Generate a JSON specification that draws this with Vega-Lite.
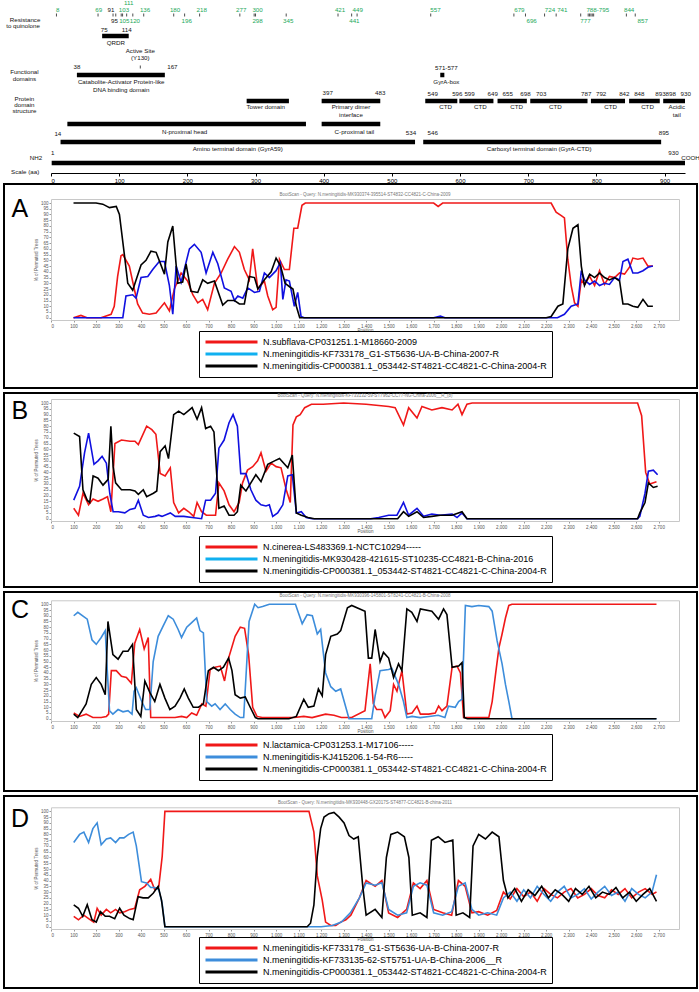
{
"$schema": "https://vega.github.io/schema/vega-lite/v6.json",
"padding": {"left": 3, "top": 0, "right": 3, "bottom": 0},
"background": "white",
"spacing": 5,
"bounds": "flush",
"resolve": {"scale": {"color": "independent", "stroke": "independent"}, "legend": {"color": "independent", "stroke": "independent"}},
"config": {"font": "Liberation Sans", "view": {"stroke": null}},
"datasets": {
"bars": [
{"name":"QRDR","start":75,"end":114,"lane":35},
{"name":"CAP-like","start":38,"end":167,"lane":74},
{"name":"GyrA-box","start":571,"end":577,"lane":74},
{"name":"Tower","start":287,"end":349,"lane":100},
{"name":"Primary dimer","start":397,"end":483,"lane":100},
{"name":"CTD1","start":549,"end":596,"lane":100},
{"name":"CTD2","start":599,"end":649,"lane":100},
{"name":"CTD3","start":655,"end":698,"lane":100},
{"name":"CTD4","start":703,"end":787,"lane":100},
{"name":"CTD5","start":792,"end":842,"lane":100},
{"name":"CTD6","start":848,"end":893,"lane":100},
{"name":"Acidic","start":898,"end":930,"lane":100},
{"name":"N-proximal","start":24,"end":374,"lane":123},
{"name":"C-proximal","start":397,"end":483,"lane":123},
{"name":"Amino","start":14,"end":534,"lane":141},
{"name":"Carboxyl","start":546,"end":895,"lane":141},
{"name":"Full","start":1,"end":930,"lane":162}
],
"ticks": [
{"aa":8,"lane":14},{"aa":69,"lane":14},{"aa":91,"lane":14},{"aa":95,"lane":14},{"aa":103,"lane":14},{"aa":105,"lane":14},{"aa":111,"lane":14},{"aa":120,"lane":14},{"aa":136,"lane":14},{"aa":180,"lane":14},{"aa":196,"lane":14},{"aa":218,"lane":14},{"aa":277,"lane":14},{"aa":298,"lane":14},{"aa":300,"lane":14},{"aa":345,"lane":14},{"aa":421,"lane":14},{"aa":441,"lane":14},{"aa":449,"lane":14},{"aa":557,"lane":14},{"aa":679,"lane":14},{"aa":696,"lane":14},{"aa":724,"lane":14},{"aa":741,"lane":14},{"aa":777,"lane":14},{"aa":788,"lane":14},{"aa":790,"lane":14},{"aa":792,"lane":14},{"aa":794,"lane":14},{"aa":796,"lane":14},{"aa":844,"lane":14},{"aa":857,"lane":14},{"aa":131,"lane":66}
],
"labels": [
{"t":"111","x":114,"lane":2,"kind":"res"},
{"t":"8","x":10,"lane":8.5,"kind":"res"},
{"t":"69","x":70,"lane":8.5,"kind":"res"},
{"t":"91","x":88,"lane":8.5,"kind":"std"},
{"t":"103","x":107,"lane":8.5,"kind":"res"},
{"t":"136","x":138,"lane":8.5,"kind":"res"},
{"t":"180","x":182,"lane":8.5,"kind":"res"},
{"t":"218","x":221,"lane":8.5,"kind":"res"},
{"t":"277","x":279,"lane":8.5,"kind":"res"},
{"t":"300","x":303,"lane":8.5,"kind":"res"},
{"t":"421","x":424,"lane":8.5,"kind":"res"},
{"t":"449","x":450,"lane":8.5,"kind":"res"},
{"t":"557","x":564,"lane":8.5,"kind":"res"},
{"t":"679","x":687,"lane":8.5,"kind":"res"},
{"t":"724","x":732,"lane":8.5,"kind":"res"},
{"t":"741","x":750,"lane":8.5,"kind":"res"},
{"t":"788-795","x":802,"lane":8.5,"kind":"res"},
{"t":"844","x":848,"lane":8.5,"kind":"res"},
{"t":"95","x":93,"lane":20,"kind":"std"},
{"t":"105","x":107.5,"lane":20,"kind":"res"},
{"t":"120","x":123,"lane":20,"kind":"res"},
{"t":"196","x":199,"lane":20,"kind":"res"},
{"t":"298","x":303,"lane":20,"kind":"res"},
{"t":"345","x":348,"lane":20,"kind":"res"},
{"t":"441","x":445,"lane":20,"kind":"res"},
{"t":"696","x":705,"lane":20,"kind":"res"},
{"t":"777","x":784,"lane":20,"kind":"res"},
{"t":"857","x":868,"lane":20,"kind":"res"},
{"t":"Resistance","x":-38,"lane":19,"kind":"std"},
{"t":"to quinolone","x":-41,"lane":25,"kind":"std"},
{"t":"75","x":78,"lane":29,"kind":"std"},
{"t":"114","x":111,"lane":29,"kind":"std"},
{"t":"QRDR","x":95,"lane":42,"kind":"std"},
{"t":"Active Site","x":131,"lane":50,"kind":"std"},
{"t":"(Y130)","x":131,"lane":57,"kind":"std"},
{"t":"38","x":38,"lane":66,"kind":"std"},
{"t":"167","x":178,"lane":66,"kind":"std"},
{"t":"Functional","x":-39,"lane":71,"kind":"std"},
{"t":"domains","x":-39,"lane":78,"kind":"std"},
{"t":"Catabolite-Activator Protein-like","x":103,"lane":81,"kind":"std"},
{"t":"DNA binding domain","x":103,"lane":89,"kind":"std"},
{"t":"571-577","x":580,"lane":67,"kind":"std"},
{"t":"GyrA-box","x":580,"lane":81,"kind":"std"},
{"t":"397","x":406,"lane":92,"kind":"std"},
{"t":"483","x":483,"lane":92,"kind":"std"},
{"t":"549","x":560,"lane":93,"kind":"std"},
{"t":"596","x":596,"lane":93,"kind":"std"},
{"t":"599","x":614,"lane":93,"kind":"std"},
{"t":"649","x":648,"lane":93,"kind":"std"},
{"t":"655","x":670,"lane":93,"kind":"std"},
{"t":"698","x":696,"lane":93,"kind":"std"},
{"t":"703","x":719,"lane":93,"kind":"std"},
{"t":"787","x":785,"lane":93,"kind":"std"},
{"t":"792","x":807,"lane":93,"kind":"std"},
{"t":"842","x":841,"lane":93,"kind":"std"},
{"t":"848","x":863,"lane":93,"kind":"std"},
{"t":"893","x":894,"lane":93,"kind":"std"},
{"t":"898","x":909,"lane":93,"kind":"std"},
{"t":"930","x":931,"lane":93,"kind":"std"},
{"t":"Protein","x":-39,"lane":98,"kind":"std"},
{"t":"domain","x":-39,"lane":104,"kind":"std"},
{"t":"structure","x":-39,"lane":110,"kind":"std"},
{"t":"Tower domain","x":315,"lane":106,"kind":"std"},
{"t":"Primary dimer","x":440,"lane":106,"kind":"std"},
{"t":"interface","x":440,"lane":114,"kind":"std"},
{"t":"CTD","x":579,"lane":106,"kind":"std"},
{"t":"CTD","x":630,"lane":106,"kind":"std"},
{"t":"CTD","x":683,"lane":106,"kind":"std"},
{"t":"CTD","x":740,"lane":106,"kind":"std"},
{"t":"CTD","x":821,"lane":106,"kind":"std"},
{"t":"CTD","x":875,"lane":106,"kind":"std"},
{"t":"Acidic","x":918,"lane":106,"kind":"std"},
{"t":"tail","x":918,"lane":114,"kind":"std"},
{"t":"N-proximal head","x":196,"lane":131,"kind":"std"},
{"t":"C-proximal tail","x":445,"lane":131,"kind":"std"},
{"t":"14","x":10,"lane":133,"kind":"std"},
{"t":"534","x":528,"lane":132,"kind":"std"},
{"t":"546","x":560,"lane":132,"kind":"std"},
{"t":"895","x":899,"lane":132,"kind":"std"},
{"t":"Amino terminal domain (GyrA59)","x":274,"lane":148,"kind":"std"},
{"t":"Carboxyl terminal domain (GyrA-CTD)","x":716,"lane":148,"kind":"std"},
{"t":"1","x":2.5,"lane":152,"kind":"std"},
{"t":"930","x":913,"lane":152,"kind":"std"},
{"t":"NH2","x":-22,"lane":157,"kind":"std"},
{"t":"COOH","x":938,"lane":157,"kind":"std"},
{"t":"Scale (aa)","x":-38,"lane":171,"kind":"std"}
],
"A": [
{"s":"ar","p":100,"v":0},{"s":"ar","p":133,"v":2},{"s":"ar","p":160,"v":0},{"s":"ar","p":222,"v":0},{"s":"ar","p":267,"v":3},{"s":"ar","p":281,"v":10},{"s":"ar","p":296,"v":36},{"s":"ar","p":311,"v":54},{"s":"ar","p":319,"v":55},{"s":"ar","p":348,"v":45},{"s":"ar","p":370,"v":25},{"s":"ar","p":385,"v":12},{"s":"ar","p":407,"v":4},{"s":"ar","p":437,"v":3},{"s":"ar","p":467,"v":4},{"s":"ar","p":504,"v":13},{"s":"ar","p":526,"v":6},{"s":"ar","p":548,"v":25},{"s":"ar","p":578,"v":39},{"s":"ar","p":607,"v":32},{"s":"ar","p":630,"v":20},{"s":"ar","p":652,"v":13},{"s":"ar","p":674,"v":16},{"s":"ar","p":696,"v":7},{"s":"ar","p":726,"v":30},{"s":"ar","p":756,"v":39},{"s":"ar","p":785,"v":51},{"s":"ar","p":815,"v":62},{"s":"ar","p":837,"v":57},{"s":"ar","p":859,"v":42},{"s":"ar","p":881,"v":33},{"s":"ar","p":896,"v":60},{"s":"ar","p":919,"v":25},{"s":"ar","p":948,"v":32},{"s":"ar","p":963,"v":19},{"s":"ar","p":985,"v":7},{"s":"ar","p":1000,"v":9},{"s":"ar","p":1015,"v":51},{"s":"ar","p":1037,"v":42},{"s":"ar","p":1059,"v":42},{"s":"ar","p":1079,"v":78},{"s":"ar","p":1096,"v":78},{"s":"ar","p":1115,"v":98},{"s":"ar","p":1130,"v":100},{"s":"ar","p":1400,"v":100},{"s":"ar","p":1700,"v":100},{"s":"ar","p":1720,"v":97},{"s":"ar","p":1740,"v":100},{"s":"ar","p":2222,"v":100},{"s":"ar","p":2244,"v":92},{"s":"ar","p":2267,"v":89},{"s":"ar","p":2281,"v":87},{"s":"ar","p":2296,"v":51},{"s":"ar","p":2311,"v":28},{"s":"ar","p":2326,"v":13},{"s":"ar","p":2341,"v":10},{"s":"ar","p":2356,"v":33},{"s":"ar","p":2370,"v":29},{"s":"ar","p":2393,"v":36},{"s":"ar","p":2415,"v":28},{"s":"ar","p":2437,"v":41},{"s":"ar","p":2459,"v":29},{"s":"ar","p":2481,"v":36},{"s":"ar","p":2504,"v":35},{"s":"ar","p":2526,"v":39},{"s":"ar","p":2548,"v":38},{"s":"ar","p":2570,"v":44},{"s":"ar","p":2585,"v":52},{"s":"ar","p":2607,"v":51},{"s":"ar","p":2630,"v":52},{"s":"ar","p":2652,"v":45},{"s":"ar","p":2674,"v":45},
{"s":"ab","p":100,"v":0},{"s":"ab","p":319,"v":0},{"s":"ab","p":333,"v":19},{"s":"ab","p":363,"v":20},{"s":"ab","p":378,"v":17},{"s":"ab","p":400,"v":35},{"s":"ab","p":430,"v":36},{"s":"ab","p":452,"v":42},{"s":"ab","p":481,"v":49},{"s":"ab","p":504,"v":49},{"s":"ab","p":526,"v":28},{"s":"ab","p":541,"v":3},{"s":"ab","p":556,"v":45},{"s":"ab","p":578,"v":31},{"s":"ab","p":615,"v":60},{"s":"ab","p":637,"v":64},{"s":"ab","p":667,"v":57},{"s":"ab","p":689,"v":39},{"s":"ab","p":719,"v":57},{"s":"ab","p":741,"v":47},{"s":"ab","p":770,"v":26},{"s":"ab","p":800,"v":23},{"s":"ab","p":815,"v":15},{"s":"ab","p":830,"v":19},{"s":"ab","p":852,"v":17},{"s":"ab","p":874,"v":26},{"s":"ab","p":904,"v":22},{"s":"ab","p":926,"v":23},{"s":"ab","p":948,"v":39},{"s":"ab","p":970,"v":35},{"s":"ab","p":1000,"v":41},{"s":"ab","p":1019,"v":48},{"s":"ab","p":1030,"v":16},{"s":"ab","p":1044,"v":33},{"s":"ab","p":1059,"v":32},{"s":"ab","p":1081,"v":10},{"s":"ab","p":1096,"v":22},{"s":"ab","p":1111,"v":1},{"s":"ab","p":1125,"v":0},{"s":"ab","p":1700,"v":0},{"s":"ab","p":1730,"v":1.5},{"s":"ab","p":1750,"v":0},{"s":"ab","p":2250,"v":0},{"s":"ab","p":2281,"v":3},{"s":"ab","p":2311,"v":10},{"s":"ab","p":2341,"v":12},{"s":"ab","p":2356,"v":41},{"s":"ab","p":2370,"v":33},{"s":"ab","p":2393,"v":29},{"s":"ab","p":2415,"v":32},{"s":"ab","p":2437,"v":28},{"s":"ab","p":2459,"v":30},{"s":"ab","p":2481,"v":29},{"s":"ab","p":2504,"v":35},{"s":"ab","p":2526,"v":33},{"s":"ab","p":2541,"v":49},{"s":"ab","p":2563,"v":51},{"s":"ab","p":2585,"v":39},{"s":"ab","p":2607,"v":39},{"s":"ab","p":2630,"v":41},{"s":"ab","p":2652,"v":44},{"s":"ab","p":2674,"v":45},
{"s":"ak","p":100,"v":100},{"s":"ak","p":200,"v":100},{"s":"ak","p":230,"v":99},{"s":"ak","p":260,"v":96},{"s":"ak","p":290,"v":97},{"s":"ak","p":304,"v":90},{"s":"ak","p":326,"v":55},{"s":"ak","p":341,"v":30},{"s":"ak","p":363,"v":24},{"s":"ak","p":400,"v":46},{"s":"ak","p":422,"v":50},{"s":"ak","p":444,"v":58},{"s":"ak","p":467,"v":57},{"s":"ak","p":504,"v":38},{"s":"ak","p":519,"v":66},{"s":"ak","p":541,"v":80},{"s":"ak","p":563,"v":30},{"s":"ak","p":585,"v":31},{"s":"ak","p":600,"v":47},{"s":"ak","p":622,"v":23},{"s":"ak","p":652,"v":22},{"s":"ak","p":674,"v":33},{"s":"ak","p":696,"v":30},{"s":"ak","p":726,"v":32},{"s":"ak","p":763,"v":11},{"s":"ak","p":785,"v":15},{"s":"ak","p":815,"v":15},{"s":"ak","p":837,"v":12},{"s":"ak","p":859,"v":12},{"s":"ak","p":881,"v":36},{"s":"ak","p":904,"v":35},{"s":"ak","p":919,"v":25},{"s":"ak","p":948,"v":33},{"s":"ak","p":978,"v":40},{"s":"ak","p":1000,"v":52},{"s":"ak","p":1020,"v":45},{"s":"ak","p":1040,"v":30},{"s":"ak","p":1060,"v":27},{"s":"ak","p":1075,"v":25},{"s":"ak","p":1090,"v":10},{"s":"ak","p":1105,"v":0},{"s":"ak","p":2200,"v":0},{"s":"ak","p":2222,"v":1},{"s":"ak","p":2252,"v":10},{"s":"ak","p":2274,"v":12},{"s":"ak","p":2296,"v":60},{"s":"ak","p":2319,"v":78},{"s":"ak","p":2341,"v":81},{"s":"ak","p":2356,"v":45},{"s":"ak","p":2370,"v":28},{"s":"ak","p":2393,"v":38},{"s":"ak","p":2415,"v":35},{"s":"ak","p":2437,"v":39},{"s":"ak","p":2459,"v":35},{"s":"ak","p":2481,"v":33},{"s":"ak","p":2504,"v":35},{"s":"ak","p":2526,"v":32},{"s":"ak","p":2541,"v":12},{"s":"ak","p":2563,"v":12},{"s":"ak","p":2585,"v":10},{"s":"ak","p":2607,"v":9},{"s":"ak","p":2630,"v":16},{"s":"ak","p":2652,"v":10},{"s":"ak","p":2674,"v":10}
],
"B": [
{"s":"br","p":101,"v":9},{"s":"br","p":122,"v":3},{"s":"br","p":142,"v":22},{"s":"br","p":167,"v":12},{"s":"br","p":187,"v":17},{"s":"br","p":209,"v":15},{"s":"br","p":231,"v":17},{"s":"br","p":251,"v":19},{"s":"br","p":266,"v":6},{"s":"br","p":284,"v":65},{"s":"br","p":313,"v":68},{"s":"br","p":351,"v":67},{"s":"br","p":373,"v":67},{"s":"br","p":388,"v":64},{"s":"br","p":425,"v":80},{"s":"br","p":448,"v":77},{"s":"br","p":466,"v":73},{"s":"br","p":485,"v":39},{"s":"br","p":507,"v":37},{"s":"br","p":530,"v":44},{"s":"br","p":545,"v":14},{"s":"br","p":567,"v":5},{"s":"br","p":590,"v":9},{"s":"br","p":612,"v":6},{"s":"br","p":634,"v":2},{"s":"br","p":649,"v":14},{"s":"br","p":669,"v":6},{"s":"br","p":690,"v":3},{"s":"br","p":713,"v":3},{"s":"br","p":731,"v":3},{"s":"br","p":746,"v":31},{"s":"br","p":769,"v":24},{"s":"br","p":791,"v":12},{"s":"br","p":813,"v":6},{"s":"br","p":836,"v":14},{"s":"br","p":851,"v":31},{"s":"br","p":873,"v":42},{"s":"br","p":896,"v":45},{"s":"br","p":918,"v":50},{"s":"br","p":933,"v":57},{"s":"br","p":955,"v":41},{"s":"br","p":978,"v":48},{"s":"br","p":1000,"v":45},{"s":"br","p":1022,"v":44},{"s":"br","p":1045,"v":25},{"s":"br","p":1063,"v":14},{"s":"br","p":1075,"v":81},{"s":"br","p":1090,"v":88},{"s":"br","p":1107,"v":90},{"s":"br","p":1127,"v":96},{"s":"br","p":1157,"v":99},{"s":"br","p":1209,"v":99},{"s":"br","p":1300,"v":100},{"s":"br","p":1400,"v":99},{"s":"br","p":1500,"v":97},{"s":"br","p":1529,"v":96},{"s":"br","p":1566,"v":81},{"s":"br","p":1589,"v":96},{"s":"br","p":1626,"v":87},{"s":"br","p":1648,"v":97},{"s":"br","p":1692,"v":94},{"s":"br","p":1737,"v":96},{"s":"br","p":1782,"v":94},{"s":"br","p":1808,"v":99},{"s":"br","p":1826,"v":90},{"s":"br","p":1848,"v":99},{"s":"br","p":1871,"v":100},{"s":"br","p":2606,"v":100},{"s":"br","p":2624,"v":89},{"s":"br","p":2642,"v":40},{"s":"br","p":2660,"v":30},{"s":"br","p":2690,"v":32},
{"s":"bb","p":101,"v":16},{"s":"bb","p":127,"v":28},{"s":"bb","p":149,"v":57},{"s":"bb","p":167,"v":74},{"s":"bb","p":191,"v":47},{"s":"bb","p":209,"v":50},{"s":"bb","p":227,"v":54},{"s":"bb","p":246,"v":48},{"s":"bb","p":261,"v":22},{"s":"bb","p":276,"v":6},{"s":"bb","p":299,"v":6},{"s":"bb","p":328,"v":5},{"s":"bb","p":351,"v":8},{"s":"bb","p":373,"v":9},{"s":"bb","p":388,"v":16},{"s":"bb","p":410,"v":3},{"s":"bb","p":433,"v":1},{"s":"bb","p":463,"v":2},{"s":"bb","p":478,"v":3},{"s":"bb","p":493,"v":2},{"s":"bb","p":530,"v":5},{"s":"bb","p":552,"v":2},{"s":"bb","p":590,"v":2},{"s":"bb","p":627,"v":1},{"s":"bb","p":669,"v":0},{"s":"bb","p":687,"v":16},{"s":"bb","p":709,"v":16},{"s":"bb","p":731,"v":22},{"s":"bb","p":746,"v":61},{"s":"bb","p":769,"v":68},{"s":"bb","p":791,"v":83},{"s":"bb","p":809,"v":90},{"s":"bb","p":828,"v":80},{"s":"bb","p":843,"v":39},{"s":"bb","p":866,"v":39},{"s":"bb","p":888,"v":25},{"s":"bb","p":910,"v":16},{"s":"bb","p":933,"v":12},{"s":"bb","p":955,"v":11},{"s":"bb","p":970,"v":12},{"s":"bb","p":985,"v":2},{"s":"bb","p":1007,"v":5},{"s":"bb","p":1030,"v":12},{"s":"bb","p":1052,"v":37},{"s":"bb","p":1072,"v":38},{"s":"bb","p":1090,"v":5},{"s":"bb","p":1112,"v":6},{"s":"bb","p":1134,"v":1},{"s":"bb","p":1160,"v":0},{"s":"bb","p":1420,"v":0},{"s":"bb","p":1456,"v":1},{"s":"bb","p":1500,"v":3},{"s":"bb","p":1537,"v":3},{"s":"bb","p":1566,"v":14},{"s":"bb","p":1589,"v":3},{"s":"bb","p":1626,"v":9},{"s":"bb","p":1655,"v":2},{"s":"bb","p":1692,"v":4},{"s":"bb","p":1729,"v":3},{"s":"bb","p":1782,"v":4},{"s":"bb","p":1804,"v":1},{"s":"bb","p":1826,"v":5},{"s":"bb","p":1848,"v":0},{"s":"bb","p":2606,"v":0},{"s":"bb","p":2616,"v":2},{"s":"bb","p":2639,"v":22},{"s":"bb","p":2654,"v":41},{"s":"bb","p":2676,"v":42},{"s":"bb","p":2695,"v":38},
{"s":"bk","p":101,"v":74},{"s":"bk","p":127,"v":71},{"s":"bk","p":142,"v":25},{"s":"bk","p":161,"v":16},{"s":"bk","p":172,"v":14},{"s":"bk","p":187,"v":37},{"s":"bk","p":209,"v":35},{"s":"bk","p":231,"v":29},{"s":"bk","p":254,"v":34},{"s":"bk","p":266,"v":80},{"s":"bk","p":276,"v":45},{"s":"bk","p":287,"v":31},{"s":"bk","p":313,"v":25},{"s":"bk","p":351,"v":25},{"s":"bk","p":373,"v":24},{"s":"bk","p":388,"v":21},{"s":"bk","p":410,"v":25},{"s":"bk","p":425,"v":19},{"s":"bk","p":455,"v":22},{"s":"bk","p":470,"v":24},{"s":"bk","p":485,"v":58},{"s":"bk","p":507,"v":63},{"s":"bk","p":522,"v":52},{"s":"bk","p":545,"v":90},{"s":"bk","p":567,"v":93},{"s":"bk","p":590,"v":90},{"s":"bk","p":627,"v":96},{"s":"bk","p":649,"v":86},{"s":"bk","p":669,"v":96},{"s":"bk","p":687,"v":78},{"s":"bk","p":709,"v":80},{"s":"bk","p":724,"v":75},{"s":"bk","p":746,"v":9},{"s":"bk","p":769,"v":11},{"s":"bk","p":791,"v":3},{"s":"bk","p":813,"v":3},{"s":"bk","p":828,"v":6},{"s":"bk","p":843,"v":29},{"s":"bk","p":866,"v":24},{"s":"bk","p":888,"v":31},{"s":"bk","p":910,"v":38},{"s":"bk","p":933,"v":32},{"s":"bk","p":963,"v":47},{"s":"bk","p":993,"v":50},{"s":"bk","p":1015,"v":52},{"s":"bk","p":1052,"v":44},{"s":"bk","p":1072,"v":55},{"s":"bk","p":1090,"v":5},{"s":"bk","p":1112,"v":3},{"s":"bk","p":1142,"v":1},{"s":"bk","p":1170,"v":0},{"s":"bk","p":1540,"v":0},{"s":"bk","p":1566,"v":6},{"s":"bk","p":1589,"v":2},{"s":"bk","p":1626,"v":6},{"s":"bk","p":1655,"v":1},{"s":"bk","p":1692,"v":2},{"s":"bk","p":1729,"v":3},{"s":"bk","p":1782,"v":3},{"s":"bk","p":1826,"v":6},{"s":"bk","p":1848,"v":0},{"s":"bk","p":2606,"v":0},{"s":"bk","p":2616,"v":5},{"s":"bk","p":2639,"v":14},{"s":"bk","p":2654,"v":31},{"s":"bk","p":2676,"v":27},{"s":"bk","p":2695,"v":28}
],
"C": [
{"s":"cr","p":101,"v":5},{"s":"cr","p":127,"v":2},{"s":"cr","p":156,"v":4},{"s":"cr","p":186,"v":1},{"s":"cr","p":223,"v":1},{"s":"cr","p":246,"v":2},{"s":"cr","p":256,"v":4},{"s":"cr","p":268,"v":42},{"s":"cr","p":290,"v":42},{"s":"cr","p":313,"v":37},{"s":"cr","p":335,"v":36},{"s":"cr","p":357,"v":31},{"s":"cr","p":372,"v":66},{"s":"cr","p":394,"v":78},{"s":"cr","p":414,"v":61},{"s":"cr","p":432,"v":71},{"s":"cr","p":443,"v":1},{"s":"cr","p":469,"v":1},{"s":"cr","p":506,"v":1},{"s":"cr","p":551,"v":1},{"s":"cr","p":580,"v":2},{"s":"cr","p":603,"v":1},{"s":"cr","p":625,"v":5},{"s":"cr","p":647,"v":3},{"s":"cr","p":670,"v":13},{"s":"cr","p":688,"v":11},{"s":"cr","p":707,"v":43},{"s":"cr","p":729,"v":45},{"s":"cr","p":752,"v":46},{"s":"cr","p":771,"v":33},{"s":"cr","p":789,"v":53},{"s":"cr","p":818,"v":72},{"s":"cr","p":841,"v":80},{"s":"cr","p":860,"v":79},{"s":"cr","p":878,"v":56},{"s":"cr","p":896,"v":10},{"s":"cr","p":915,"v":2},{"s":"cr","p":938,"v":1},{"s":"cr","p":1000,"v":1},{"s":"cr","p":1080,"v":1},{"s":"cr","p":1123,"v":2},{"s":"cr","p":1160,"v":1},{"s":"cr","p":1220,"v":4},{"s":"cr","p":1257,"v":3},{"s":"cr","p":1290,"v":1},{"s":"cr","p":1336,"v":1},{"s":"cr","p":1395,"v":7},{"s":"cr","p":1418,"v":48},{"s":"cr","p":1432,"v":13},{"s":"cr","p":1447,"v":8},{"s":"cr","p":1469,"v":8},{"s":"cr","p":1484,"v":1},{"s":"cr","p":1507,"v":7},{"s":"cr","p":1522,"v":30},{"s":"cr","p":1537,"v":24},{"s":"cr","p":1559,"v":42},{"s":"cr","p":1581,"v":4},{"s":"cr","p":1604,"v":5},{"s":"cr","p":1626,"v":11},{"s":"cr","p":1641,"v":4},{"s":"cr","p":1678,"v":4},{"s":"cr","p":1707,"v":5},{"s":"cr","p":1722,"v":11},{"s":"cr","p":1737,"v":7},{"s":"cr","p":1759,"v":11},{"s":"cr","p":1782,"v":45},{"s":"cr","p":1804,"v":46},{"s":"cr","p":1819,"v":40},{"s":"cr","p":1833,"v":1},{"s":"cr","p":1945,"v":1},{"s":"cr","p":1960,"v":15},{"s":"cr","p":1975,"v":39},{"s":"cr","p":1990,"v":62},{"s":"cr","p":2004,"v":74},{"s":"cr","p":2019,"v":88},{"s":"cr","p":2034,"v":99},{"s":"cr","p":2048,"v":100},{"s":"cr","p":2690,"v":100},
{"s":"cb","p":101,"v":90},{"s":"cb","p":119,"v":93},{"s":"cb","p":161,"v":87},{"s":"cb","p":182,"v":69},{"s":"cb","p":201,"v":65},{"s":"cb","p":223,"v":71},{"s":"cb","p":241,"v":77},{"s":"cb","p":250,"v":42},{"s":"cb","p":260,"v":7},{"s":"cb","p":275,"v":4},{"s":"cb","p":298,"v":8},{"s":"cb","p":320,"v":6},{"s":"cb","p":342,"v":7},{"s":"cb","p":360,"v":4},{"s":"cb","p":369,"v":24},{"s":"cb","p":379,"v":27},{"s":"cb","p":399,"v":17},{"s":"cb","p":420,"v":8},{"s":"cb","p":439,"v":8},{"s":"cb","p":454,"v":50},{"s":"cb","p":476,"v":72},{"s":"cb","p":498,"v":81},{"s":"cb","p":521,"v":90},{"s":"cb","p":543,"v":87},{"s":"cb","p":565,"v":78},{"s":"cb","p":580,"v":71},{"s":"cb","p":603,"v":80},{"s":"cb","p":625,"v":84},{"s":"cb","p":647,"v":88},{"s":"cb","p":662,"v":77},{"s":"cb","p":677,"v":75},{"s":"cb","p":692,"v":15},{"s":"cb","p":714,"v":11},{"s":"cb","p":729,"v":13},{"s":"cb","p":751,"v":8},{"s":"cb","p":774,"v":13},{"s":"cb","p":796,"v":8},{"s":"cb","p":818,"v":4},{"s":"cb","p":841,"v":1},{"s":"cb","p":856,"v":1},{"s":"cb","p":880,"v":85},{"s":"cb","p":905,"v":100},{"s":"cb","p":920,"v":97},{"s":"cb","p":940,"v":98},{"s":"cb","p":970,"v":100},{"s":"cb","p":1086,"v":100},{"s":"cb","p":1116,"v":83},{"s":"cb","p":1138,"v":91},{"s":"cb","p":1161,"v":90},{"s":"cb","p":1183,"v":74},{"s":"cb","p":1198,"v":78},{"s":"cb","p":1220,"v":40},{"s":"cb","p":1243,"v":28},{"s":"cb","p":1265,"v":24},{"s":"cb","p":1287,"v":26},{"s":"cb","p":1324,"v":0},{"s":"cb","p":1425,"v":0},{"s":"cb","p":1440,"v":20},{"s":"cb","p":1462,"v":42},{"s":"cb","p":1500,"v":43},{"s":"cb","p":1514,"v":44},{"s":"cb","p":1544,"v":30},{"s":"cb","p":1566,"v":15},{"s":"cb","p":1581,"v":1},{"s":"cb","p":1604,"v":2},{"s":"cb","p":1640,"v":1},{"s":"cb","p":1680,"v":2},{"s":"cb","p":1720,"v":3},{"s":"cb","p":1750,"v":1},{"s":"cb","p":1766,"v":11},{"s":"cb","p":1796,"v":10},{"s":"cb","p":1811,"v":15},{"s":"cb","p":1826,"v":17},{"s":"cb","p":1841,"v":99},{"s":"cb","p":1870,"v":98},{"s":"cb","p":1900,"v":99},{"s":"cb","p":1945,"v":98},{"s":"cb","p":1960,"v":94},{"s":"cb","p":1982,"v":68},{"s":"cb","p":2004,"v":48},{"s":"cb","p":2019,"v":30},{"s":"cb","p":2034,"v":15},{"s":"cb","p":2048,"v":0},{"s":"cb","p":2690,"v":0},
{"s":"ck","p":101,"v":4},{"s":"ck","p":119,"v":1},{"s":"ck","p":156,"v":13},{"s":"ck","p":179,"v":30},{"s":"ck","p":201,"v":36},{"s":"ck","p":223,"v":30},{"s":"ck","p":241,"v":21},{"s":"ck","p":253,"v":85},{"s":"ck","p":275,"v":56},{"s":"ck","p":298,"v":52},{"s":"ck","p":320,"v":59},{"s":"ck","p":342,"v":59},{"s":"ck","p":362,"v":65},{"s":"ck","p":379,"v":8},{"s":"ck","p":399,"v":2},{"s":"ck","p":417,"v":33},{"s":"ck","p":439,"v":23},{"s":"ck","p":461,"v":15},{"s":"ck","p":484,"v":30},{"s":"ck","p":506,"v":18},{"s":"ck","p":528,"v":8},{"s":"ck","p":551,"v":11},{"s":"ck","p":573,"v":18},{"s":"ck","p":592,"v":26},{"s":"ck","p":610,"v":18},{"s":"ck","p":632,"v":10},{"s":"ck","p":655,"v":10},{"s":"ck","p":677,"v":13},{"s":"ck","p":699,"v":42},{"s":"ck","p":722,"v":45},{"s":"ck","p":744,"v":42},{"s":"ck","p":766,"v":45},{"s":"ck","p":789,"v":53},{"s":"ck","p":804,"v":42},{"s":"ck","p":818,"v":21},{"s":"ck","p":841,"v":18},{"s":"ck","p":863,"v":19},{"s":"ck","p":885,"v":10},{"s":"ck","p":908,"v":1},{"s":"ck","p":920,"v":0},{"s":"ck","p":1057,"v":0},{"s":"ck","p":1090,"v":2},{"s":"ck","p":1123,"v":17},{"s":"ck","p":1143,"v":10},{"s":"ck","p":1168,"v":11},{"s":"ck","p":1188,"v":26},{"s":"ck","p":1205,"v":20},{"s":"ck","p":1220,"v":56},{"s":"ck","p":1243,"v":72},{"s":"ck","p":1272,"v":74},{"s":"ck","p":1287,"v":77},{"s":"ck","p":1317,"v":97},{"s":"ck","p":1336,"v":99},{"s":"ck","p":1395,"v":94},{"s":"ck","p":1410,"v":53},{"s":"ck","p":1425,"v":53},{"s":"ck","p":1440,"v":78},{"s":"ck","p":1462,"v":50},{"s":"ck","p":1477,"v":58},{"s":"ck","p":1500,"v":53},{"s":"ck","p":1522,"v":36},{"s":"ck","p":1544,"v":48},{"s":"ck","p":1559,"v":42},{"s":"ck","p":1581,"v":96},{"s":"ck","p":1603,"v":93},{"s":"ck","p":1626,"v":85},{"s":"ck","p":1641,"v":96},{"s":"ck","p":1692,"v":94},{"s":"ck","p":1722,"v":87},{"s":"ck","p":1744,"v":96},{"s":"ck","p":1759,"v":91},{"s":"ck","p":1782,"v":45},{"s":"ck","p":1811,"v":46},{"s":"ck","p":1826,"v":49},{"s":"ck","p":1836,"v":1},{"s":"ck","p":1850,"v":0},{"s":"ck","p":2690,"v":0}
],
"D": [
{"s":"dr","p":101,"v":9},{"s":"dr","p":122,"v":6},{"s":"dr","p":146,"v":10},{"s":"dr","p":167,"v":7},{"s":"dr","p":190,"v":4},{"s":"dr","p":205,"v":16},{"s":"dr","p":223,"v":10},{"s":"dr","p":246,"v":15},{"s":"dr","p":265,"v":12},{"s":"dr","p":287,"v":15},{"s":"dr","p":305,"v":12},{"s":"dr","p":327,"v":13},{"s":"dr","p":350,"v":15},{"s":"dr","p":372,"v":16},{"s":"dr","p":394,"v":32},{"s":"dr","p":417,"v":35},{"s":"dr","p":443,"v":41},{"s":"dr","p":461,"v":32},{"s":"dr","p":479,"v":35},{"s":"dr","p":494,"v":61},{"s":"dr","p":506,"v":100},{"s":"dr","p":1146,"v":100},{"s":"dr","p":1168,"v":82},{"s":"dr","p":1183,"v":44},{"s":"dr","p":1205,"v":23},{"s":"dr","p":1220,"v":4},{"s":"dr","p":1243,"v":1},{"s":"dr","p":1265,"v":1},{"s":"dr","p":1287,"v":4},{"s":"dr","p":1310,"v":6},{"s":"dr","p":1332,"v":10},{"s":"dr","p":1370,"v":25},{"s":"dr","p":1400,"v":40},{"s":"dr","p":1440,"v":35},{"s":"dr","p":1470,"v":40},{"s":"dr","p":1500,"v":12},{"s":"dr","p":1540,"v":8},{"s":"dr","p":1580,"v":15},{"s":"dr","p":1610,"v":38},{"s":"dr","p":1640,"v":33},{"s":"dr","p":1670,"v":40},{"s":"dr","p":1700,"v":15},{"s":"dr","p":1740,"v":12},{"s":"dr","p":1780,"v":10},{"s":"dr","p":1810,"v":40},{"s":"dr","p":1840,"v":35},{"s":"dr","p":1870,"v":12},{"s":"dr","p":1900,"v":13},{"s":"dr","p":1940,"v":10},{"s":"dr","p":1980,"v":14},{"s":"dr","p":2010,"v":30},{"s":"dr","p":2040,"v":24},{"s":"dr","p":2070,"v":33},{"s":"dr","p":2100,"v":26},{"s":"dr","p":2130,"v":30},{"s":"dr","p":2160,"v":22},{"s":"dr","p":2190,"v":33},{"s":"dr","p":2220,"v":28},{"s":"dr","p":2250,"v":25},{"s":"dr","p":2280,"v":30},{"s":"dr","p":2310,"v":33},{"s":"dr","p":2340,"v":25},{"s":"dr","p":2370,"v":28},{"s":"dr","p":2400,"v":33},{"s":"dr","p":2430,"v":27},{"s":"dr","p":2460,"v":25},{"s":"dr","p":2490,"v":32},{"s":"dr","p":2520,"v":28},{"s":"dr","p":2550,"v":33},{"s":"dr","p":2580,"v":25},{"s":"dr","p":2610,"v":30},{"s":"dr","p":2640,"v":33},{"s":"dr","p":2670,"v":28},{"s":"dr","p":2690,"v":30},
{"s":"db","p":101,"v":73},{"s":"db","p":127,"v":80},{"s":"db","p":146,"v":82},{"s":"db","p":167,"v":73},{"s":"db","p":186,"v":85},{"s":"db","p":205,"v":90},{"s":"db","p":223,"v":71},{"s":"db","p":246,"v":76},{"s":"db","p":265,"v":77},{"s":"db","p":287,"v":73},{"s":"db","p":305,"v":77},{"s":"db","p":324,"v":77},{"s":"db","p":345,"v":80},{"s":"db","p":365,"v":82},{"s":"db","p":379,"v":70},{"s":"db","p":402,"v":39},{"s":"db","p":424,"v":38},{"s":"db","p":443,"v":34},{"s":"db","p":461,"v":34},{"s":"db","p":479,"v":32},{"s":"db","p":494,"v":20},{"s":"db","p":506,"v":0},{"s":"db","p":1200,"v":0},{"s":"db","p":1250,"v":1},{"s":"db","p":1290,"v":4},{"s":"db","p":1330,"v":12},{"s":"db","p":1370,"v":25},{"s":"db","p":1400,"v":38},{"s":"db","p":1440,"v":36},{"s":"db","p":1470,"v":38},{"s":"db","p":1500,"v":15},{"s":"db","p":1540,"v":10},{"s":"db","p":1580,"v":12},{"s":"db","p":1610,"v":35},{"s":"db","p":1640,"v":38},{"s":"db","p":1670,"v":36},{"s":"db","p":1700,"v":12},{"s":"db","p":1740,"v":10},{"s":"db","p":1780,"v":13},{"s":"db","p":1810,"v":35},{"s":"db","p":1840,"v":38},{"s":"db","p":1870,"v":15},{"s":"db","p":1900,"v":10},{"s":"db","p":1940,"v":12},{"s":"db","p":1980,"v":10},{"s":"db","p":2010,"v":25},{"s":"db","p":2040,"v":30},{"s":"db","p":2070,"v":22},{"s":"db","p":2100,"v":32},{"s":"db","p":2130,"v":25},{"s":"db","p":2160,"v":35},{"s":"db","p":2190,"v":28},{"s":"db","p":2220,"v":22},{"s":"db","p":2250,"v":30},{"s":"db","p":2280,"v":35},{"s":"db","p":2310,"v":25},{"s":"db","p":2340,"v":28},{"s":"db","p":2370,"v":33},{"s":"db","p":2400,"v":24},{"s":"db","p":2430,"v":30},{"s":"db","p":2460,"v":35},{"s":"db","p":2490,"v":27},{"s":"db","p":2520,"v":30},{"s":"db","p":2550,"v":22},{"s":"db","p":2580,"v":33},{"s":"db","p":2610,"v":28},{"s":"db","p":2640,"v":25},{"s":"db","p":2670,"v":30},{"s":"db","p":2690,"v":45},
{"s":"dk","p":101,"v":19},{"s":"dk","p":122,"v":16},{"s":"dk","p":141,"v":9},{"s":"dk","p":161,"v":19},{"s":"dk","p":182,"v":6},{"s":"dk","p":201,"v":4},{"s":"dk","p":220,"v":13},{"s":"dk","p":241,"v":9},{"s":"dk","p":260,"v":9},{"s":"dk","p":283,"v":7},{"s":"dk","p":305,"v":16},{"s":"dk","p":324,"v":10},{"s":"dk","p":350,"v":7},{"s":"dk","p":365,"v":6},{"s":"dk","p":387,"v":26},{"s":"dk","p":409,"v":25},{"s":"dk","p":432,"v":25},{"s":"dk","p":454,"v":29},{"s":"dk","p":476,"v":35},{"s":"dk","p":491,"v":23},{"s":"dk","p":506,"v":0},{"s":"dk","p":1138,"v":0},{"s":"dk","p":1153,"v":3},{"s":"dk","p":1168,"v":19},{"s":"dk","p":1183,"v":61},{"s":"dk","p":1198,"v":85},{"s":"dk","p":1213,"v":95},{"s":"dk","p":1235,"v":98},{"s":"dk","p":1257,"v":99},{"s":"dk","p":1280,"v":95},{"s":"dk","p":1302,"v":90},{"s":"dk","p":1324,"v":79},{"s":"dk","p":1345,"v":76},{"s":"dk","p":1365,"v":78},{"s":"dk","p":1385,"v":35},{"s":"dk","p":1400,"v":10},{"s":"dk","p":1440,"v":15},{"s":"dk","p":1470,"v":8},{"s":"dk","p":1490,"v":60},{"s":"dk","p":1510,"v":80},{"s":"dk","p":1540,"v":82},{"s":"dk","p":1570,"v":78},{"s":"dk","p":1590,"v":60},{"s":"dk","p":1605,"v":10},{"s":"dk","p":1640,"v":12},{"s":"dk","p":1670,"v":8},{"s":"dk","p":1690,"v":75},{"s":"dk","p":1720,"v":78},{"s":"dk","p":1750,"v":73},{"s":"dk","p":1785,"v":75},{"s":"dk","p":1800,"v":10},{"s":"dk","p":1830,"v":12},{"s":"dk","p":1860,"v":8},{"s":"dk","p":1875,"v":70},{"s":"dk","p":1900,"v":80},{"s":"dk","p":1930,"v":76},{"s":"dk","p":1960,"v":82},{"s":"dk","p":1990,"v":78},{"s":"dk","p":2010,"v":40},{"s":"dk","p":2030,"v":25},{"s":"dk","p":2060,"v":33},{"s":"dk","p":2090,"v":22},{"s":"dk","p":2120,"v":32},{"s":"dk","p":2150,"v":27},{"s":"dk","p":2180,"v":35},{"s":"dk","p":2210,"v":25},{"s":"dk","p":2240,"v":32},{"s":"dk","p":2270,"v":28},{"s":"dk","p":2300,"v":22},{"s":"dk","p":2330,"v":33},{"s":"dk","p":2360,"v":28},{"s":"dk","p":2390,"v":35},{"s":"dk","p":2420,"v":25},{"s":"dk","p":2450,"v":30},{"s":"dk","p":2480,"v":28},{"s":"dk","p":2510,"v":34},{"s":"dk","p":2540,"v":25},{"s":"dk","p":2570,"v":30},{"s":"dk","p":2600,"v":22},{"s":"dk","p":2630,"v":28},{"s":"dk","p":2660,"v":33},{"s":"dk","p":2690,"v":22}
]
},
"vconcat": [
{
"width": 693, "height": 178,
"view": {"stroke": null},
"layer": [
{"data": {"name": "bars"}, "mark": {"type": "rule", "strokeWidth": 4.5, "color": "black"},
 "encoding": {
  "x": {"field": "start", "type": "quantitative", "scale": {"domain": [0, 930], "range": [47, 681], "nice": false, "zero": false},
        "axis": {"orient": "bottom", "offset": -6, "values": [0,50,100,150,200,250,300,350,400,450,500,550,600,650,700,750,800,850,900], "labelFontSize": 6, "tickSize": 3, "domainColor": "black", "tickColor": "black", "labelColor": "black", "title": null, "grid": false, "labelPadding": 1, "labelOverlap": false}},
  "x2": {"field": "end"},
  "y": {"field": "lane", "type": "quantitative", "scale": {"domain": [0, 178], "range": [0, 178], "nice": false, "zero": false}, "axis": null}
 }},
{"data": {"name": "ticks"}, "mark": {"type": "tick", "orient": "vertical", "size": 3, "thickness": 1, "color": "black"},
 "encoding": {"x": {"field": "aa", "type": "quantitative"}, "y": {"field": "lane", "type": "quantitative"}}},
{"data": {"name": "labels"}, "mark": {"type": "text", "fontSize": 6.2, "baseline": "middle", "align": "center"},
 "encoding": {"x": {"field": "x", "type": "quantitative"}, "y": {"field": "lane", "type": "quantitative"}, "text": {"field": "t"},
  "color": {"field": "kind", "type": "nominal", "scale": {"domain": ["res", "std"], "range": ["#22a85a", "#111111"]}, "legend": null}}}
]
},
{
"width": 693, "height": 204,
"view": {"stroke": "black", "strokeWidth": 2},
"data": {"name": "A"},
"resolve": {"axis": {"x": "independent", "y": "independent"}},
"layer": [
{"mark": {"type": "line", "strokeWidth": 1.6},
 "encoding": {
  "x": {"field": "p", "type": "quantitative", "scale": {"domain": [0, 2790], "range": [47, 675], "nice": false, "zero": false},
        "axis": {"orient": "bottom", "offset": -68, "values": [0,100,200,300,400,500,600,700,800,900,1000,1100,1200,1300,1400,1500,1600,1700,1800,1900,2000,2100,2200,2300,2400,2500,2600,2700], "format": ",d", "labelFontSize": 4.5, "labelColor": "#555", "tickSize": 2, "tickColor": "#999", "domainColor": "#c8c8c8", "grid": false, "labelOverlap": false, "labelPadding": 1, "title": "Position", "titleFontSize": 4.5, "titleFontWeight": "normal", "titleColor": "#555", "titlePadding": 0}},
  "y": {"field": "v", "type": "quantitative", "scale": {"domain": [-2, 103.5], "range": [136, 15], "nice": false, "zero": false},
        "axis": {"orient": "left", "offset": -47, "values": [0,5,10,15,20,25,30,35,40,45,50,55,60,65,70,75,80,85,90,95,100], "labelFontSize": 4.5, "labelColor": "#555", "tickSize": 2, "tickColor": "#999", "domainColor": "#c8c8c8", "grid": false, "labelOverlap": false, "labelPadding": 1, "title": "% of Permuted Trees", "titleFontSize": 4.5, "titleFontWeight": "normal", "titleColor": "#555", "titlePadding": 2}},
  "color": {"field": "s", "type": "nominal", "scale": {"domain": ["ar", "ab", "ak", "a-unused"], "range": ["#f01818", "#1010e0", "#000000", "#000000"]}, "legend": null}
 }},
{"mark": {"type": "line", "opacity": 0},
 "encoding": {
  "x": {"field": "p", "type": "quantitative", "axis": {"orient": "top", "offset": -15, "labels": false, "ticks": false, "title": null, "domainColor": "#c8c8c8", "grid": false}},
  "y": {"field": "v", "type": "quantitative", "axis": {"orient": "right", "offset": -18, "labels": false, "ticks": false, "title": null, "domainColor": "#c8c8c8", "grid": false}},
  "stroke": {"field": "s", "type": "nominal", "scale": {"domain": ["ar", "ab", "ak"], "range": ["#f01818", "#10b0f0", "#000000"]},
   "legend": {"orient": "none", "legendX": 195, "legendY": 147, "title": null, "symbolType": "stroke", "symbolSize": 2704, "symbolStrokeWidth": 3, "symbolOpacity": 1, "clipHeight": 12, "rowPadding": 0, "labelFontSize": 9, "labelFont": "Liberation Sans", "labelColor": "black", "labelLimit": 500, "strokeColor": "black", "padding": 5, "labelOffset": 4,
    "labelExpr": "datum.value == 'ar' ? 'N.subflava-CP031251.1-M18660-2009' : datum.value == 'ab' ? 'N.meningitidis-KF733178_G1-ST5636-UA-B-China-2007-R' : 'N.meningitidis-CP000381.1_053442-ST4821-CC4821-C-China-2004-R'"}}
 }},
{"data": {"values": [{"t": "BootScan - Query: N.meningitidis-MK930374-395514-ST4832-CC4821-C-China-2009"}]},
 "mark": {"type": "text", "fontSize": 4.5, "color": "#777", "align": "center", "baseline": "middle"},
 "encoding": {"x": {"datum": 1395, "type": "quantitative", "axis": null}, "y": {"datum": 107, "type": "quantitative", "axis": null}, "text": {"field": "t"}}},
{"data": {"values": [{"t": "A"}]},
 "mark": {"type": "text", "fontSize": 25, "color": "black", "align": "center", "baseline": "middle"},
 "encoding": {"x": {"datum": -138, "type": "quantitative", "axis": null}, "y": {"datum": 94.5, "type": "quantitative", "axis": null}, "text": {"field": "t"}}}
]
},
{
"width": 693, "height": 194,
"view": {"stroke": "black", "strokeWidth": 2},
"data": {"name": "B"},
"resolve": {"axis": {"x": "independent", "y": "independent"}},
"layer": [
{"mark": {"type": "line", "strokeWidth": 1.6},
 "encoding": {
  "x": {"field": "p", "type": "quantitative", "scale": {"domain": [0, 2790], "range": [47, 675], "nice": false, "zero": false},
        "axis": {"orient": "bottom", "offset": -66, "values": [0,100,200,300,400,500,600,700,800,900,1000,1100,1200,1300,1400,1500,1600,1700,1800,1900,2000,2100,2200,2300,2400,2500,2600,2700], "format": ",d", "labelFontSize": 4.5, "labelColor": "#555", "tickSize": 2, "tickColor": "#999", "domainColor": "#c8c8c8", "grid": false, "labelOverlap": false, "labelPadding": 1, "title": "Position", "titleFontSize": 4.5, "titleFontWeight": "normal", "titleColor": "#555", "titlePadding": 0}},
  "y": {"field": "v", "type": "quantitative", "scale": {"domain": [-2, 103.5], "range": [128, 6], "nice": false, "zero": false},
        "axis": {"orient": "left", "offset": -47, "values": [0,5,10,15,20,25,30,35,40,45,50,55,60,65,70,75,80,85,90,95,100], "labelFontSize": 4.5, "labelColor": "#555", "tickSize": 2, "tickColor": "#999", "domainColor": "#c8c8c8", "grid": false, "labelOverlap": false, "labelPadding": 1, "title": "% of Permuted Trees", "titleFontSize": 4.5, "titleFontWeight": "normal", "titleColor": "#555", "titlePadding": 2}},
  "color": {"field": "s", "type": "nominal", "scale": {"domain": ["br", "bb", "bk", "b-unused"], "range": ["#f01818", "#1010e0", "#000000", "#000000"]}, "legend": null}
 }},
{"mark": {"type": "line", "opacity": 0},
 "encoding": {
  "x": {"field": "p", "type": "quantitative", "axis": {"orient": "top", "offset": -6, "labels": false, "ticks": false, "title": null, "domainColor": "#c8c8c8", "grid": false}},
  "y": {"field": "v", "type": "quantitative", "axis": {"orient": "right", "offset": -18, "labels": false, "ticks": false, "title": null, "domainColor": "#c8c8c8", "grid": false}},
  "stroke": {"field": "s", "type": "nominal", "scale": {"domain": ["br", "bb", "bk"], "range": ["#f01818", "#10b0f0", "#000000"]},
   "legend": {"orient": "none", "legendX": 195, "legendY": 143, "title": null, "symbolType": "stroke", "symbolSize": 2704, "symbolStrokeWidth": 3, "symbolOpacity": 1, "clipHeight": 12, "rowPadding": 0, "labelFontSize": 9, "labelFont": "Liberation Sans", "labelColor": "black", "labelLimit": 500, "strokeColor": "black", "padding": 5, "labelOffset": 4,
    "labelExpr": "datum.value == 'br' ? 'N.cinerea-LS483369.1-NCTC10294-----' : datum.value == 'bb' ? 'N.meningitidis-MK930428-421615-ST10235-CC4821-B-China-2016' : 'N.meningitidis-CP000381.1_053442-ST4821-CC4821-C-China-2004-R'"}}
 }},
{"data": {"values": [{"t": "BootScan - Query: N.meningitidis-KF733132-59-ST7962-CC77-NG-China-2006__R_(8)"}]},
 "mark": {"type": "text", "fontSize": 4.5, "color": "#777", "align": "center", "baseline": "middle"},
 "encoding": {"x": {"datum": 1395, "type": "quantitative", "axis": null}, "y": {"datum": 106, "type": "quantitative", "axis": null}, "text": {"field": "t"}}},
{"data": {"values": [{"t": "B"}]},
 "mark": {"type": "text", "fontSize": 25, "color": "black", "align": "center", "baseline": "middle"},
 "encoding": {"x": {"datum": -138, "type": "quantitative", "axis": null}, "y": {"datum": 93.5, "type": "quantitative", "axis": null}, "text": {"field": "t"}}}
]
},
{
"width": 693, "height": 199,
"view": {"stroke": "black", "strokeWidth": 2},
"data": {"name": "C"},
"resolve": {"axis": {"x": "independent", "y": "independent"}},
"layer": [
{"mark": {"type": "line", "strokeWidth": 1.6},
 "encoding": {
  "x": {"field": "p", "type": "quantitative", "scale": {"domain": [0, 2790], "range": [47, 675], "nice": false, "zero": false},
        "axis": {"orient": "bottom", "offset": -70, "values": [0,100,200,300,400,500,600,700,800,900,1000,1100,1200,1300,1400,1500,1600,1700,1800,1900,2000,2100,2200,2300,2400,2500,2600,2700], "format": ",d", "labelFontSize": 4.5, "labelColor": "#555", "tickSize": 2, "tickColor": "#999", "domainColor": "#c8c8c8", "grid": false, "labelOverlap": false, "labelPadding": 1, "title": "Position", "titleFontSize": 4.5, "titleFontWeight": "normal", "titleColor": "#555", "titlePadding": 0}},
  "y": {"field": "v", "type": "quantitative", "scale": {"domain": [-2, 103.5], "range": [129, 8.3], "nice": false, "zero": false},
        "axis": {"orient": "left", "offset": -47, "values": [0,5,10,15,20,25,30,35,40,45,50,55,60,65,70,75,80,85,90,95,100], "labelFontSize": 4.5, "labelColor": "#555", "tickSize": 2, "tickColor": "#999", "domainColor": "#c8c8c8", "grid": false, "labelOverlap": false, "labelPadding": 1, "title": "% of Permuted Trees", "titleFontSize": 4.5, "titleFontWeight": "normal", "titleColor": "#555", "titlePadding": 2}},
  "color": {"field": "s", "type": "nominal", "scale": {"domain": ["cr", "cb", "ck"], "range": ["#f01818", "#3d8ddb", "#000000"]},
   "legend": {"orient": "none", "legendX": 195, "legendY": 142, "title": null, "symbolType": "stroke", "symbolSize": 2704, "symbolStrokeWidth": 3, "clipHeight": 12, "rowPadding": 0, "labelFontSize": 9, "labelFont": "Liberation Sans", "labelColor": "black", "labelLimit": 500, "strokeColor": "black", "padding": 5, "labelOffset": 4,
    "labelExpr": "datum.value == 'cr' ? 'N.lactamica-CP031253.1-M17106-----' : datum.value == 'cb' ? 'N.meningitidis-KJ415206.1-54-R6-----' : 'N.meningitidis-CP000381.1_053442-ST4821-CC4821-C-China-2004-R'"}}
 }},
{"mark": {"type": "line", "opacity": 0},
 "encoding": {
  "x": {"field": "p", "type": "quantitative", "axis": {"orient": "top", "offset": -8.3, "labels": false, "ticks": false, "title": null, "domainColor": "#c8c8c8", "grid": false}},
  "y": {"field": "v", "type": "quantitative", "axis": {"orient": "right", "offset": -18, "labels": false, "ticks": false, "title": null, "domainColor": "#c8c8c8", "grid": false}}
 }},
{"data": {"values": [{"t": "BootScan - Query: N.meningitidis-MK930396-145801-ST8241-CC4821-B-China-2008"}]},
 "mark": {"type": "text", "fontSize": 4.5, "color": "#777", "align": "center", "baseline": "middle"},
 "encoding": {"x": {"datum": 1395, "type": "quantitative", "axis": null}, "y": {"datum": 107, "type": "quantitative", "axis": null}, "text": {"field": "t"}}},
{"data": {"values": [{"t": "C"}]},
 "mark": {"type": "text", "fontSize": 25, "color": "black", "align": "center", "baseline": "middle"},
 "encoding": {"x": {"datum": -138, "type": "quantitative", "axis": null}, "y": {"datum": 95, "type": "quantitative", "axis": null}, "text": {"field": "t"}}}
]
},
{
"width": 693, "height": 192,
"view": {"stroke": "black", "strokeWidth": 2},
"data": {"name": "D"},
"resolve": {"axis": {"x": "independent", "y": "independent"}},
"layer": [
{"mark": {"type": "line", "strokeWidth": 1.6},
 "encoding": {
  "x": {"field": "p", "type": "quantitative", "scale": {"domain": [0, 2790], "range": [47, 675], "nice": false, "zero": false},
        "axis": {"orient": "bottom", "offset": -59, "values": [0,100,200,300,400,500,600,700,800,900,1000,1100,1200,1300,1400,1500,1600,1700,1800,1900,2000,2100,2200,2300,2400,2500,2600,2700], "format": ",d", "labelFontSize": 4.5, "labelColor": "#555", "tickSize": 2, "tickColor": "#999", "domainColor": "#c8c8c8", "grid": false, "labelOverlap": false, "labelPadding": 1, "title": "Position", "titleFontSize": 4.5, "titleFontWeight": "normal", "titleColor": "#555", "titlePadding": 0}},
  "y": {"field": "v", "type": "quantitative", "scale": {"domain": [-2, 103.5], "range": [133, 11.3], "nice": false, "zero": false},
        "axis": {"orient": "left", "offset": -47, "values": [0,5,10,15,20,25,30,35,40,45,50,55,60,65,70,75,80,85,90,95,100], "labelFontSize": 4.5, "labelColor": "#555", "tickSize": 2, "tickColor": "#999", "domainColor": "#c8c8c8", "grid": false, "labelOverlap": false, "labelPadding": 1, "title": "% of Permuted Trees", "titleFontSize": 4.5, "titleFontWeight": "normal", "titleColor": "#555", "titlePadding": 2}},
  "color": {"field": "s", "type": "nominal", "scale": {"domain": ["dr", "db", "dk"], "range": ["#f01818", "#3d8ddb", "#000000"]},
   "legend": {"orient": "none", "legendX": 195, "legendY": 141, "title": null, "symbolType": "stroke", "symbolSize": 2704, "symbolStrokeWidth": 3, "clipHeight": 12, "rowPadding": 0, "labelFontSize": 9, "labelFont": "Liberation Sans", "labelColor": "black", "labelLimit": 500, "strokeColor": "black", "padding": 5, "labelOffset": 4,
    "labelExpr": "datum.value == 'dr' ? 'N.meningitidis-KF733178_G1-ST5636-UA-B-China-2007-R' : datum.value == 'db' ? 'N.meningitidis-KF733135-62-ST5751-UA-B-China-2006__R' : 'N.meningitidis-CP000381.1_053442-ST4821-CC4821-C-China-2004-R'"}}
 }},
{"mark": {"type": "line", "opacity": 0},
 "encoding": {
  "x": {"field": "p", "type": "quantitative", "axis": {"orient": "top", "offset": -11.3, "labels": false, "ticks": false, "title": null, "domainColor": "#c8c8c8", "grid": false}},
  "y": {"field": "v", "type": "quantitative", "axis": {"orient": "right", "offset": -18, "labels": false, "ticks": false, "title": null, "domainColor": "#c8c8c8", "grid": false}}
 }},
{"data": {"values": [{"t": "BootScan - Query: N.meningitidis-MK930448-GX2017S-ST4877-CC4821-B-china-2011"}]},
 "mark": {"type": "text", "fontSize": 4.5, "color": "#777", "align": "center", "baseline": "middle"},
 "encoding": {"x": {"datum": 1395, "type": "quantitative", "axis": null}, "y": {"datum": 107, "type": "quantitative", "axis": null}, "text": {"field": "t"}}},
{"data": {"values": [{"t": "D"}]},
 "mark": {"type": "text", "fontSize": 25, "color": "black", "align": "center", "baseline": "middle"},
 "encoding": {"x": {"datum": -138, "type": "quantitative", "axis": null}, "y": {"datum": 93.5, "type": "quantitative", "axis": null}, "text": {"field": "t"}}}
]
}
]
}
